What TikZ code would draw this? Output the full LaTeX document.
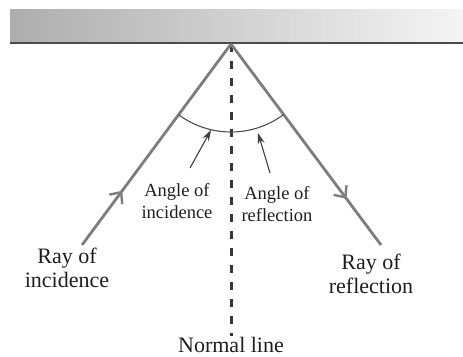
\documentclass[tikz,border=0pt]{standalone}
\usepackage{fontspec}
\setmainfont{Liberation Serif}
\usetikzlibrary{arrows.meta,decorations.markings,calc}
\definecolor{raygray}{RGB}{125,125,125}
\definecolor{txt}{RGB}{30,30,30}
\tikzset{
  ray/.style={draw=raygray, line width=2.8pt},
  smalllbl/.style={font=\fontsize{18.5}{22}\selectfont, align=center, text=txt, inner sep=0pt},
  biglbl/.style={font=\fontsize{22}{24}\selectfont, align=center, text=txt, inner sep=0pt},
  pointer/.style={draw=black!75, line width=1.1pt, -{Stealth[length=11pt,width=7pt]}},
  midarrow/.style={postaction={decorate, decoration={markings,
      mark=at position #1 with {\arrow{Straight Barb[length=9pt,width=16pt,line width=2.4pt]}}}}}
}
\begin{document}
\begin{tikzpicture}[x=1pt,y=-1pt]
\useasboundingbox (0,0) rectangle (463,356);
% mirror
\shade[left color=black!32, right color=black!4] (10,9) rectangle (463,43);
\draw[black!70, line width=2pt] (10,43) -- (463,43);
% points
\coordinate (O) at (231,44);
\coordinate (I) at (82,245);
\coordinate (R) at (381,245);
\coordinate (N) at (231,336);
% normal
\draw[black!78, line width=3pt, dash pattern=on 8pt off 9pt] (O) -- (N);
% rays
\draw[ray, midarrow=0.27] (I) -- (O);
\draw[ray, midarrow=0.77] (O) -- (R);
% arc
\draw[black!70, line width=1.1pt] ($(O)+(126.5:88)$) arc[start angle=126.5, end angle=53.3, radius=88];
% labels
\node[smalllbl] (ai) at (177,201) {Angle of\\incidence};
\node[smalllbl] (ar) at (277,204) {Angle of\\reflection};
\node[biglbl] (ri) at (67,268) {Ray of\\incidence};
\node[biglbl] (rr) at (371,274) {Ray of\\reflection};
\node[biglbl] (nl) at (231,345) {Normal line};
% pointers
\coordinate (pa) at (211,130);
\coordinate (pb) at (258,133);
\coordinate (sa) at (190,168);
\coordinate (sb) at (270,173);
\draw[pointer] (sa) -- (pa);
\draw[pointer] (sb) -- (pb);
\end{tikzpicture}
\end{document}
